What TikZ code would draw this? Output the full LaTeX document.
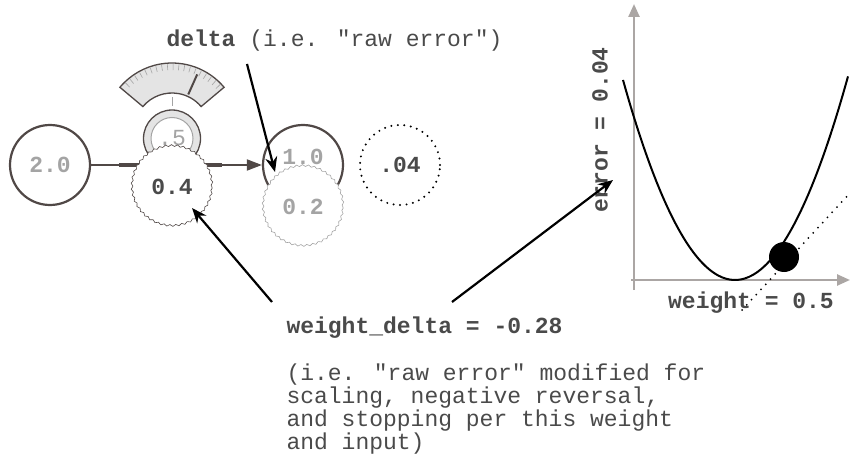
\documentclass[tikz,border=0pt]{standalone}
\usepackage{fontspec}
\setmainfont{Liberation Mono}
\usetikzlibrary{positioning}
\usetikzlibrary{calc}
\usetikzlibrary{arrows.meta}
\usetikzlibrary{decorations.pathmorphing}
\definecolor{ink}{HTML}{4A4A4A}
\definecolor{faded}{HTML}{A4A4A4}
\definecolor{rim}{HTML}{504846}
\definecolor{axisgray}{HTML}{ABA6A4}
\definecolor{dial}{HTML}{E4E4E4}
\newcommand{\qt}{\textquotedbl}
\tikzset{
        mono/.style={font=\fontsize{23}{22.7}\selectfont, text=ink},
        neuron/.style={
          circle, minimum size=80pt, inner sep=0pt,
          draw=rim, line width=2.2pt,
          font=\bfseries\fontsize{23}{24}\selectfont, text=faded
          },
        wavy neuron/.style={
          neuron, fill=white, line width=0.6pt,
          decorate, decoration={snake, amplitude=0.9pt, segment length=6pt}
          },
        dotted neuron/.style={
          neuron, draw=black, line width=2.2pt, line cap=round,
          dash pattern=on 0pt off 6.5pt, text=ink
          },
        wire/.style={draw=rim, line width=1.8pt},
        pointer/.style={draw=black, line width=2.2pt, -{Stealth[length=15pt, width=12pt]}},
        axis/.style={draw=axisgray, line width=2.4pt, -{Triangle[length=13pt, width=11pt]}},
}

\begin{document}
\begin{tikzpicture}[x=1pt, y=1pt]
      \useasboundingbox (0,0) rectangle (850,461);

      % GAUGE AND KNOB
      \coordinate (gc) at (172,330);
      \draw[rim, fill=dial, line width=1.3pt]
        ($(gc)+(40:68)$) arc[start angle=40, end angle=140, radius=68pt]
        -- ($(gc)+(140:38)$) arc[start angle=140, end angle=40, radius=38pt] -- cycle;
      \foreach \a in {44,49,...,136}
        \draw[faded, line width=0.6pt] ($(gc)+(\a:67)$) -- ($(gc)+(\a:61)$);
      \draw[rim, line width=2pt] ($(gc)+(66:40)$) -- ($(gc)+(66:62)$);
      \draw[faded, line width=0.8pt] (172,364) -- (172,355);
      \node[circle, minimum size=57pt, draw=rim, fill=dial, line width=1.3pt] (knob) at (172,322.5) {};
      \node[circle, minimum size=42pt, draw=faded, fill=white, line width=1pt,
            font=\fontsize{23}{24}\selectfont, text=faded] (knobval) at (knob) {.5};

      % NETWORK
      \node[neuron] (in) at (50,296) {2.0};
      \node[neuron] (out) at (303,296) {};
      \node[mono, text=faded, font=\bfseries\fontsize{23}{24}\selectfont] (outval) at ($(out)+(0,8)$) {1.0};
      \draw[wire, -{Triangle[length=15pt, width=11pt]}] (in) -- (out);
      \draw[wire, line width=4pt] ($(in.east)+(28,0)$) -- ($(out.west)+(-40,0)$);
      \node[wavy neuron, text=ink] (wt) at (172,274) {0.4};
      \node[wavy neuron, draw=faded] (delta) at (303,254) {0.2};
      \node[dotted neuron] (err) at (400,296) {.04};

      % ERROR CURVE
      \coordinate (origin) at (634,181);
      \draw[axis] (634,171) -- (634,457);
      \draw[axis] (631,181) -- (850,181);
      \draw[black, line width=2pt] plot[smooth, samples=60, domain=623:848]
        (\x, {181 + 0.01594*(\x-735)*(\x-735)});
      \draw[black, line width=2pt, line cap=round, dash pattern=on 0pt off 7pt]
        (742,151) -- (850,268);
      \fill[black] (784,204) circle (15pt);
      \node[mono, font=\bfseries\fontsize{23}{24}\selectfont, rotate=90] (errlabel) at (600,331) {error = 0.04};
      \node[mono, font=\bfseries\fontsize{23}{24}\selectfont] (wlabel) at (751,158) {weight = 0.5};

      % LABELS
      \node[mono, anchor=base west] (deltatext) at (163,414) {\textbf{delta} (i.e. \qt raw error\qt)};
      \node[mono, anchor=base west, font=\bfseries\fontsize{23}{24}\selectfont] (wdelta) at (283,128) {weight\_delta = -0.28};
      % base of a multi-line node is its last line
      \node[mono, anchor=base west, align=left] (wnote) at (283,12)
        {(i.e. \qt raw error\qt{} modified for\\scaling, negative reversal,\\and stopping per this weight\\and input)};

      % POINTERS
      \coordinate (dstart) at (247,397);
      \coordinate (dtip) at (275,289);
      \coordinate (wstart) at (272,159);
      \coordinate (wtip) at (192,253);
      \coordinate (gstart) at (452,159);
      \coordinate (gtip) at (613,281);
      \draw[pointer] (dstart) -- (dtip);
      \draw[pointer] (wstart) -- (wtip);
      \draw[pointer] (gstart) -- (gtip);
\end{tikzpicture}
\end{document}
